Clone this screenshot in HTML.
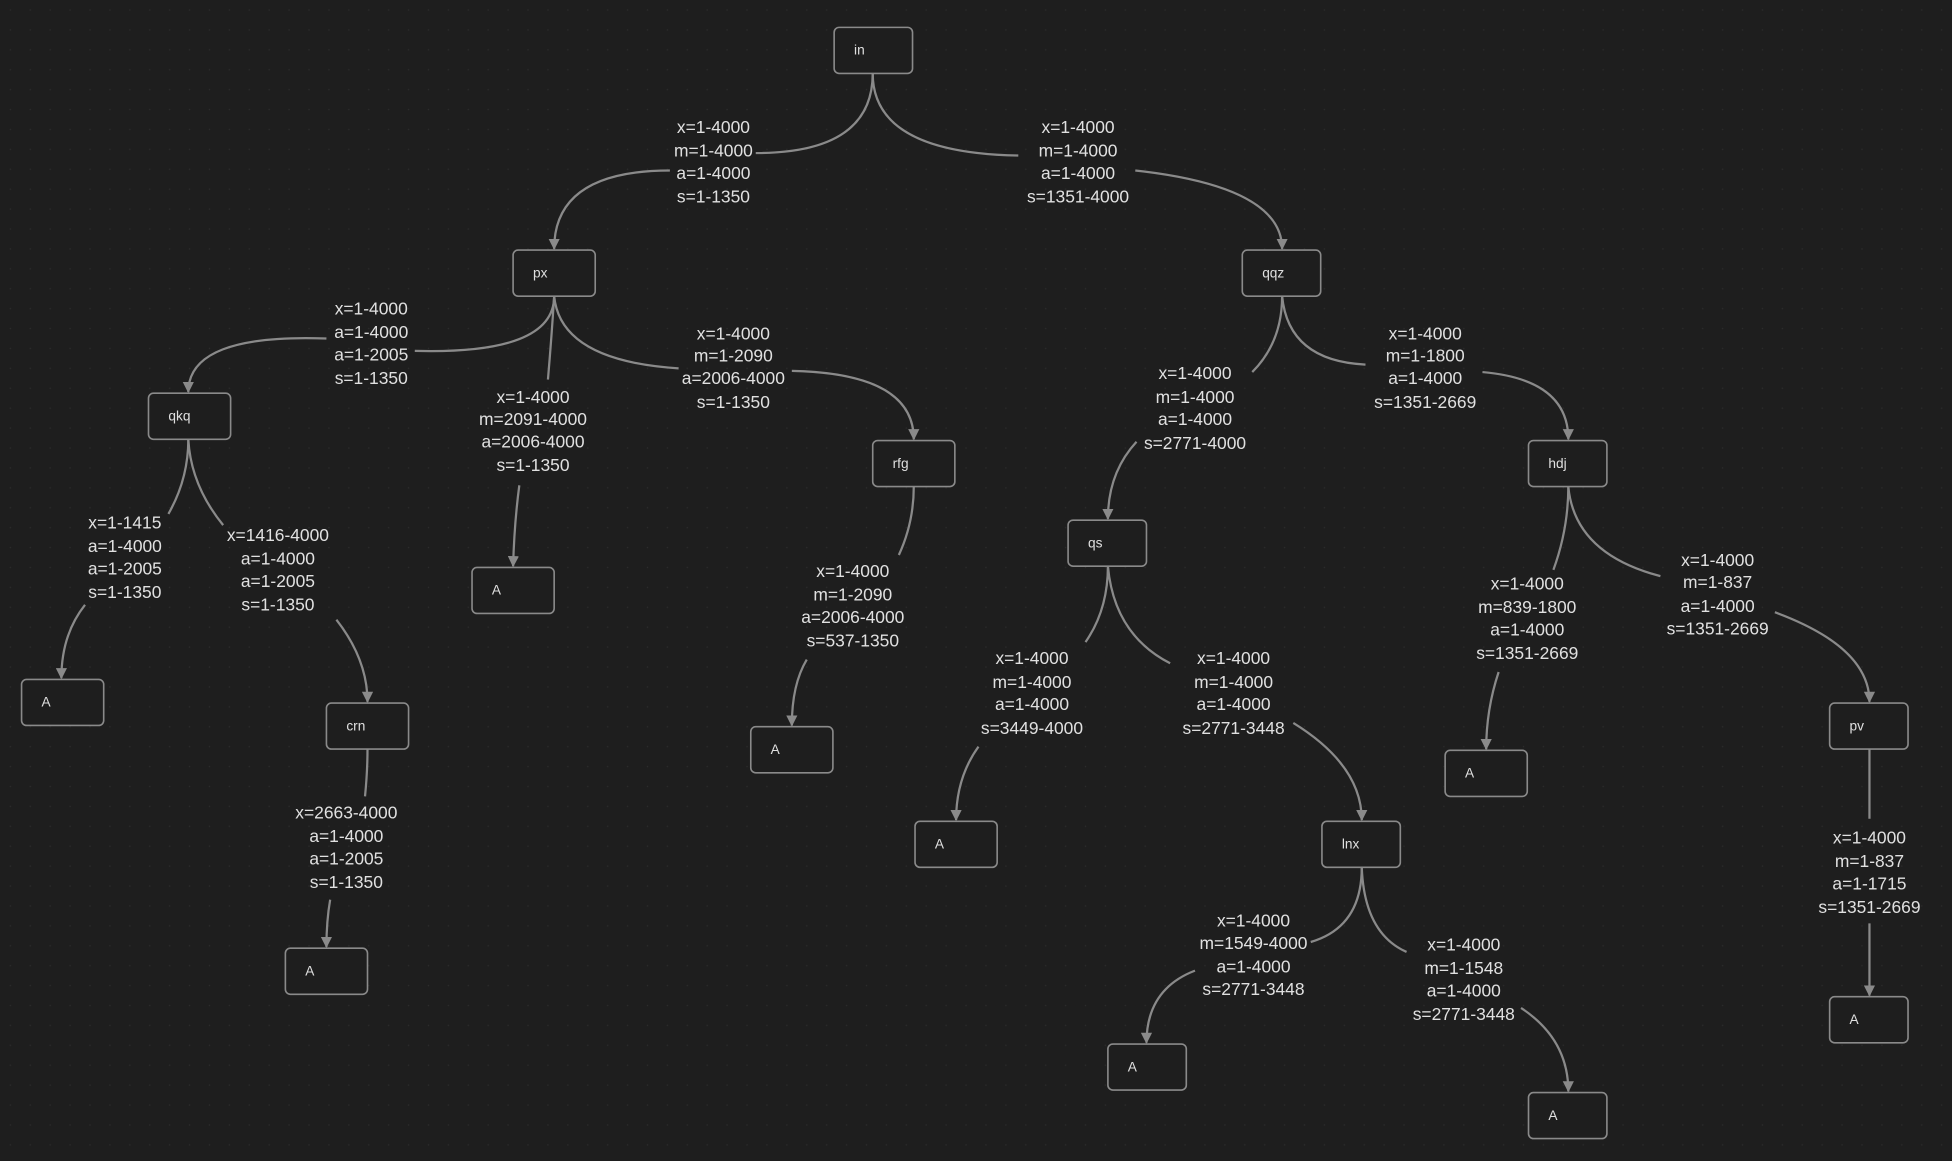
<!DOCTYPE html>
<html><head><meta charset="utf-8"><style>
html,body{margin:0;padding:0;background:#1e1e1e;}
svg{display:block}
.l{font-family:"Liberation Sans",sans-serif;font-size:14px;fill:#e0e0e0;text-anchor:middle;dominant-baseline:middle}
.n{font-family:"Liberation Sans",sans-serif;font-size:11px;fill:#e0e0e0;dominant-baseline:middle}
rect{fill:#1e1e1e;stroke:#8a8a8a;stroke-width:1.3}
path{fill:none;stroke:#8a8a8a;stroke-width:1.8}
</style></head><body>
<svg width="1952" height="1161" viewBox="0 0 1568 933" xmlns="http://www.w3.org/2000/svg">
<defs>
<pattern id="g" width="16" height="16" patternUnits="userSpaceOnUse"><circle cx="8" cy="8" r="0.6" fill="#2c2c2c"/></pattern>
<marker id="a" viewBox="0 0 10 10" refX="9" refY="5" markerWidth="5" markerHeight="5" orient="auto"><path d="M0,0 L10,5 L0,10 z" style="fill:#8a8a8a;stroke:none"/></marker>
</defs>
<rect x="0" y="0" width="1568" height="933" style="fill:url(#g);stroke:none"/>
<g>
<path d="M701,59 Q701,123 607,123"/><path d="M538,137 Q445,137 445,200" marker-end="url(#a)"/>
<path d="M701,59 Q701,123 818,125"/><path d="M912,137 Q1030,150 1030,200" marker-end="url(#a)"/>
<path d="M445,238 Q445,285 333,282"/><path d="M262,272 Q151,268 151,315" marker-end="url(#a)"/>
<path d="M445,238 Q443,270 440,305"/><path d="M417,390 Q413,420 412,455" marker-end="url(#a)"/>
<path d="M445,238 Q450,290 545,296"/><path d="M636,298 Q734,300 734,353" marker-end="url(#a)"/>
<path d="M151,353 Q151,385 135,413"/><path d="M68,486 Q49,510 49,545" marker-end="url(#a)"/>
<path d="M151,353 Q153,390 179,422"/><path d="M270,498 Q295,530 295,564" marker-end="url(#a)"/>
<path d="M295,602 Q295,620 293,640"/><path d="M265,723 Q262,740 262,761" marker-end="url(#a)"/>
<path d="M734,391 Q734,420 722,446"/><path d="M648,530 Q636,550 636,583" marker-end="url(#a)"/>
<path d="M1030,238 Q1030,275 1006,299"/><path d="M913,355 Q890,380 890,417" marker-end="url(#a)"/>
<path d="M1030,238 Q1035,290 1097,293"/><path d="M1191,299 Q1260,305 1260,353" marker-end="url(#a)"/>
<path d="M890,455 Q890,490 872,516"/><path d="M786,600 Q768,625 768,659" marker-end="url(#a)"/>
<path d="M890,455 Q895,510 940,533"/><path d="M1039,581 Q1094,615 1094,659" marker-end="url(#a)"/>
<path d="M1260,391 Q1260,425 1248,458"/><path d="M1204,540 Q1194,570 1194,602" marker-end="url(#a)"/>
<path d="M1260,391 Q1265,445 1334,463"/><path d="M1426,492 Q1502,520 1502,564" marker-end="url(#a)"/>
<path d="M1502,602 L1502,658"/><path d="M1502,742 L1502,800" marker-end="url(#a)"/>
<path d="M1094,697 Q1094,745 1053,757"/><path d="M960,780 Q921,795 921,838" marker-end="url(#a)"/>
<path d="M1094,697 Q1096,750 1130,765"/><path d="M1222,810 Q1260,835 1260,877" marker-end="url(#a)"/>
</g>
<g>
<rect x="670" y="22" width="63" height="37" rx="4"/><text class="n" x="686" y="41">in</text>
<rect x="412" y="201" width="66" height="37" rx="4"/><text class="n" x="428" y="220">px</text>
<rect x="998" y="201" width="63" height="37" rx="4"/><text class="n" x="1014" y="220">qqz</text>
<rect x="119" y="316" width="66" height="37" rx="4"/><text class="n" x="135" y="335">qkq</text>
<rect x="379" y="456" width="66" height="37" rx="4"/><text class="n" x="395" y="475">A</text>
<rect x="701" y="354" width="66" height="37" rx="4"/><text class="n" x="717" y="373">rfg</text>
<rect x="17" y="546" width="66" height="37" rx="4"/><text class="n" x="33" y="565">A</text>
<rect x="262" y="565" width="66" height="37" rx="4"/><text class="n" x="278" y="584">crn</text>
<rect x="229" y="762" width="66" height="37" rx="4"/><text class="n" x="245" y="781">A</text>
<rect x="603" y="584" width="66" height="37" rx="4"/><text class="n" x="619" y="603">A</text>
<rect x="858" y="418" width="63" height="37" rx="4"/><text class="n" x="874" y="437">qs</text>
<rect x="1228" y="354" width="63" height="37" rx="4"/><text class="n" x="1244" y="373">hdj</text>
<rect x="735" y="660" width="66" height="37" rx="4"/><text class="n" x="751" y="679">A</text>
<rect x="1062" y="660" width="63" height="37" rx="4"/><text class="n" x="1078" y="679">lnx</text>
<rect x="1161" y="603" width="66" height="37" rx="4"/><text class="n" x="1177" y="622">A</text>
<rect x="1470" y="565" width="63" height="37" rx="4"/><text class="n" x="1486" y="584">pv</text>
<rect x="890" y="839" width="63" height="37" rx="4"/><text class="n" x="906" y="858">A</text>
<rect x="1228" y="878" width="63" height="37" rx="4"/><text class="n" x="1244" y="897">A</text>
<rect x="1470" y="801" width="63" height="37" rx="4"/><text class="n" x="1486" y="820">A</text>
</g>
<g class="lbl">
<text class="l" x="573" y="103">x=1-4000</text><text class="l" x="573" y="122">m=1-4000</text><text class="l" x="573" y="140">a=1-4000</text><text class="l" x="573" y="159">s=1-1350</text>
<text class="l" x="866" y="103">x=1-4000</text><text class="l" x="866" y="122">m=1-4000</text><text class="l" x="866" y="140">a=1-4000</text><text class="l" x="866" y="159">s=1351-4000</text>
<text class="l" x="298" y="249">x=1-4000</text><text class="l" x="298" y="268">a=1-4000</text><text class="l" x="298" y="286">a=1-2005</text><text class="l" x="298" y="305">s=1-1350</text>
<text class="l" x="428" y="320">x=1-4000</text><text class="l" x="428" y="338">m=2091-4000</text><text class="l" x="428" y="356">a=2006-4000</text><text class="l" x="428" y="375">s=1-1350</text>
<text class="l" x="589" y="269">x=1-4000</text><text class="l" x="589" y="287">m=1-2090</text><text class="l" x="589" y="305">a=2006-4000</text><text class="l" x="589" y="324">s=1-1350</text>
<text class="l" x="100" y="421">x=1-1415</text><text class="l" x="100" y="440">a=1-4000</text><text class="l" x="100" y="458">a=1-2005</text><text class="l" x="100" y="477">s=1-1350</text>
<text class="l" x="223" y="431">x=1416-4000</text><text class="l" x="223" y="450">a=1-4000</text><text class="l" x="223" y="468">a=1-2005</text><text class="l" x="223" y="487">s=1-1350</text>
<text class="l" x="278" y="654">x=2663-4000</text><text class="l" x="278" y="673">a=1-4000</text><text class="l" x="278" y="691">a=1-2005</text><text class="l" x="278" y="710">s=1-1350</text>
<text class="l" x="685" y="460">x=1-4000</text><text class="l" x="685" y="479">m=1-2090</text><text class="l" x="685" y="497">a=2006-4000</text><text class="l" x="685" y="516">s=537-1350</text>
<text class="l" x="960" y="301">x=1-4000</text><text class="l" x="960" y="320">m=1-4000</text><text class="l" x="960" y="338">a=1-4000</text><text class="l" x="960" y="357">s=2771-4000</text>
<text class="l" x="1145" y="269">x=1-4000</text><text class="l" x="1145" y="287">m=1-1800</text><text class="l" x="1145" y="305">a=1-4000</text><text class="l" x="1145" y="324">s=1351-2669</text>
<text class="l" x="829" y="530">x=1-4000</text><text class="l" x="829" y="549">m=1-4000</text><text class="l" x="829" y="567">a=1-4000</text><text class="l" x="829" y="586">s=3449-4000</text>
<text class="l" x="991" y="530">x=1-4000</text><text class="l" x="991" y="549">m=1-4000</text><text class="l" x="991" y="567">a=1-4000</text><text class="l" x="991" y="586">s=2771-3448</text>
<text class="l" x="1227" y="470">x=1-4000</text><text class="l" x="1227" y="489">m=839-1800</text><text class="l" x="1227" y="507">a=1-4000</text><text class="l" x="1227" y="526">s=1351-2669</text>
<text class="l" x="1380" y="451">x=1-4000</text><text class="l" x="1380" y="469">m=1-837</text><text class="l" x="1380" y="488">a=1-4000</text><text class="l" x="1380" y="506">s=1351-2669</text>
<text class="l" x="1502" y="674">x=1-4000</text><text class="l" x="1502" y="693">m=1-837</text><text class="l" x="1502" y="711">a=1-1715</text><text class="l" x="1502" y="730">s=1351-2669</text>
<text class="l" x="1007" y="741">x=1-4000</text><text class="l" x="1007" y="759">m=1549-4000</text><text class="l" x="1007" y="778">a=1-4000</text><text class="l" x="1007" y="796">s=2771-3448</text>
<text class="l" x="1176" y="760">x=1-4000</text><text class="l" x="1176" y="779">m=1-1548</text><text class="l" x="1176" y="797">a=1-4000</text><text class="l" x="1176" y="816">s=2771-3448</text>
</g>
</svg>
</body></html>
